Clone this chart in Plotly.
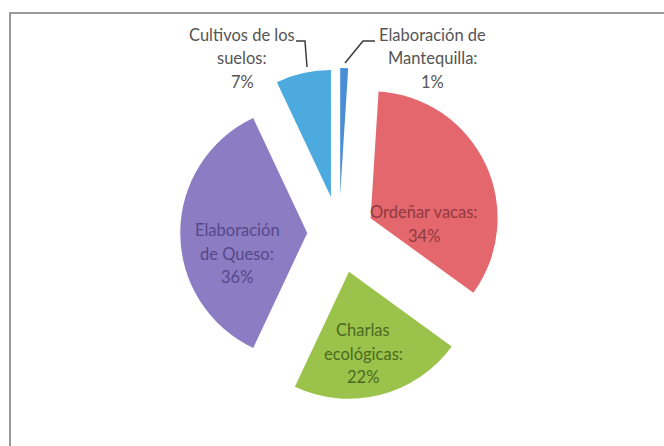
import plotly.graph_objects as go

# Activity shares, clockwise from 12 o'clock
labels = [
    "Elaboración de<br>Mantequilla",
    "Ordeñar vacas",
    "Charlas<br>ecológicas",
    "Elaboración<br>de Queso",
    "Cultivos de los<br>suelos",
]
values = [1, 34, 22, 36, 7]
pulls = [0.30, 0.275, 0.315, 0.25, 0.29]

slice_colors = ["#4A8ED6", "#E4676D", "#9BC34B", "#8C7CC3", "#4CAADF"]
text_colors = ["#555555", "#8F3A40", "#4C6A1F", "#574889", "#555555"]

# label block anchors (pixel centre x, first line y)
label_pos = [(432, 35), (424, 212), (363, 330), (237, 230), (242, 35)]
LINE_GAP = 23.5

W, H = 664, 446
FONT = "Lato"


def px(x):
    return x / W


def py(y):
    return 1 - y / H


# pie centre / radius in pixels
CX, CY, R = 339, 233, 127
ext = R * (1 + max(pulls))

fig = go.Figure()
fig.add_trace(
    go.Pie(
        labels=[l.replace("<br>", " ") for l in labels],
        values=values,
        pull=pulls,
        sort=False,
        direction="clockwise",
        rotation=0,
        marker=dict(colors=slice_colors, line=dict(width=0)),
        textinfo="none",
        showlegend=False,
        domain=dict(x=[px(CX - ext), px(CX + ext)], y=[py(CY + ext), py(CY - ext)]),
    )
)

total = sum(values)
for lab, v, (x, y), col in zip(labels, values, label_pos, text_colors):
    lines = lab.split("<br>")
    lines[-1] += ":"
    lines.append(f"{round(v / total * 100)}%")
    for i, line in enumerate(lines):
        fig.add_annotation(
            x=px(x), y=py(y + i * LINE_GAP), xref="paper", yref="paper",
            text=line, showarrow=False, xanchor="center", yanchor="middle",
            font=dict(family=FONT, size=16.5, color=col),
        )

# leader lines for the two thin slices
leader_style = dict(color="#3a3a3a", width=1.5)
fig.add_shape(type="path", xref="paper", yref="paper",
              path=f"M {px(296)} {py(41)} L {px(305)} {py(41)} L {px(307)} {py(67)}",
              line=leader_style)
fig.add_shape(type="path", xref="paper", yref="paper",
              path=f"M {px(345)} {py(63)} L {px(363)} {py(41)} L {px(375)} {py(41)}",
              line=leader_style)

# chart frame
fig.add_shape(type="rect", xref="paper", yref="paper",
              x0=px(10), x1=px(W + 10), y0=py(H + 10), y1=py(13),
              line=dict(color="#9a9a9a", width=2), fillcolor="rgba(0,0,0,0)", layer="below")

fig.update_layout(
    width=W, height=H,
    margin=dict(l=0, r=0, t=0, b=0),
    paper_bgcolor="white",
    plot_bgcolor="white",
)

fig.write_html("out.html")
